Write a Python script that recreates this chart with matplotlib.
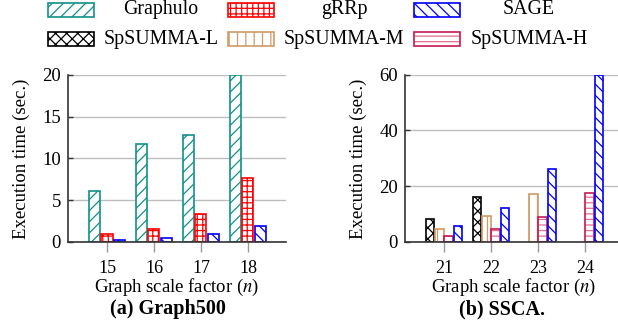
"""
Execution time of Graphulo / gRRp / SAGE / SpSUMMA variants on
Graph500 and SSCA inputs, two bar panels with a shared legend.
"""

import matplotlib
import matplotlib.pyplot as plt
import numpy as np
from matplotlib.patches import Rectangle

matplotlib.use("Agg")

# ---------------------------------------------------------------------------
# Data
# ---------------------------------------------------------------------------

G500_SCALES = [15, 16, 17, 18]
G500_GRAPHULO = [6.1, 11.7, 12.8, 20.0]
G500_GRRP = [1.0, 1.6, 3.4, 7.6]
G500_SAGE = [0.2, 0.45, 0.9, 1.95]

SSCA_SCALES = [21, 22, 23, 24]
SSCA_SPSUMMA_L = [8.1, 16.1, 0.0, 0.0]
SSCA_SPSUMMA_M = [4.5, 9.2, 17.1, 0.0]
SSCA_SPSUMMA_H = [2.3, 4.5, 9.0, 17.7]
SSCA_SAGE = [5.6, 12.3, 26.2, 60.0]

G500_YTICKS = [0, 5, 10, 15, 20]
SSCA_YTICKS = [0, 20, 40, 60]

# style per series: (edge colour, hatch colour, hatch)
STYLES = {
    "Graphulo": ("#11908a", "#11908a", "///"),
    "gRRp": ("#ff0000", "#ff0000", "+++"),
    "SAGE": ("#0000ff", "#0000ff", "\\\\\\"),
    "SpSUMMA-L": ("#000000", "#000000", "xxx"),
    "SpSUMMA-M": ("#cf9a66", "#cf9a66", "||"),
    "SpSUMMA-H": ("#c8174f", "#e0708f", "---"),
}

W, H = 618, 330
FONT = 13.5

plt.rcParams["font.family"] = ["Liberation Serif", "DejaVu Serif"]
plt.rcParams["mathtext.fontset"] = "stix"
plt.rcParams["hatch.linewidth"] = 0.9


def draw_bars(ax, x, values, name, width):
    edge, hatch_col, hatch = STYLES[name]
    # hatch drawn first in its own colour, outline on top
    ax.bar(x, values, width, facecolor="white", edgecolor=hatch_col,
           hatch=hatch, linewidth=0, zorder=3)
    ax.bar(x, values, width, facecolor="none", edgecolor=edge,
           linewidth=1.2, zorder=4)


def style_axes(ax, scales, yticks):
    ax.set_xticks(scales)
    ax.set_yticks(yticks)
    ax.set_ylim(yticks[0], yticks[-1])
    ax.set_xlim(scales[0] - 0.83, scales[-1] + 0.81)
    ax.grid(True, axis="y", color="#bdbdbd", linewidth=1.0, zorder=0)
    ax.set_axisbelow(True)
    for side in ("top", "right"):
        ax.spines[side].set_visible(False)
    for side in ("left", "bottom"):
        ax.spines[side].set_color("#333333")
        ax.spines[side].set_linewidth(1.2)
        ax.spines[side].set_zorder(5)
    ax.tick_params(axis="x", direction="out", length=7, width=1.0,
                   color="#9a9a9a", labelsize=13, pad=6)
    ax.tick_params(axis="y", direction="in", length=3.5, width=1.0,
                   color="#333333", labelsize=FONT, pad=5)
    ax.set_xlabel("Graph scale factor ($n$)", fontsize=FONT, labelpad=0.2)
    ax.set_ylabel("Execution time (sec.)", fontsize=FONT, labelpad=9)


fig = plt.figure(figsize=(W / 100, H / 100), dpi=100)

ax_a = fig.add_axes([68 / W, 1 - 242 / H, 218 / W, 167.3 / H])
ax_b = fig.add_axes([405 / W, 1 - 242 / H, 218 / W, 167.3 / H])

# (a) Graph500: three bars per group
xa = np.array(G500_SCALES, dtype=float)
step_a, width_a = 0.26, 0.235
draw_bars(ax_a, xa - step_a, G500_GRAPHULO, "Graphulo", width_a)
draw_bars(ax_a, xa, G500_GRRP, "gRRp", width_a)
draw_bars(ax_a, xa + step_a, G500_SAGE, "SAGE", width_a)
style_axes(ax_a, G500_SCALES, G500_YTICKS)

# (b) SSCA: four bars per group
xb = np.array(SSCA_SCALES, dtype=float)
step_b, width_b = 0.197, 0.18
for k, (name, vals) in enumerate([
    ("SpSUMMA-L", SSCA_SPSUMMA_L),
    ("SpSUMMA-M", SSCA_SPSUMMA_M),
    ("SpSUMMA-H", SSCA_SPSUMMA_H),
    ("SAGE", SSCA_SAGE),
]):
    keep = np.array(vals) > 0
    draw_bars(ax_b, xb[keep] + (k - 1.5) * step_b, np.array(vals)[keep], name, width_b)
style_axes(ax_b, SSCA_SCALES, SSCA_YTICKS)

# Sub-captions
fig.text(168 / W, 1 - 309 / H, "(a) Graph500", ha="center", va="center",
         fontsize=14.5, fontweight="bold")
fig.text(502 / W, 1 - 309 / H, "(b) SSCA.", ha="center", va="center",
         fontsize=14.5, fontweight="bold")

# Shared legend, two rows of three, labels centred in their slot
legend_rows = [
    ["Graphulo", "gRRp", "SAGE"],
    ["SpSUMMA-L", "SpSUMMA-M", "SpSUMMA-H"],
]
handle_x = [48.3, 228, 414]
label_cx = [161, 344, 529]
row_cy = [9.7, 39.2]
hw, hh = 46, 14
for r, row in enumerate(legend_rows):
    for c, name in enumerate(row):
        edge, hatch_col, hatch = STYLES[name]
        x0 = handle_x[c] / W
        y0 = 1 - (row_cy[r] + hh / 2) / H
        fig.add_artist(Rectangle((x0, y0), hw / W, hh / H, transform=fig.transFigure,
                                 facecolor="white", edgecolor=hatch_col, hatch=hatch,
                                 linewidth=0))
        fig.add_artist(Rectangle((x0, y0), hw / W, hh / H, transform=fig.transFigure,
                                 facecolor="none", edgecolor=edge, linewidth=1.2))
        fig.text(label_cx[c] / W, 1 - row_cy[r] / H, name, ha="center", va="center",
                 fontsize=14.3)

fig.savefig("out.png", dpi=100)
plt.close(fig)
